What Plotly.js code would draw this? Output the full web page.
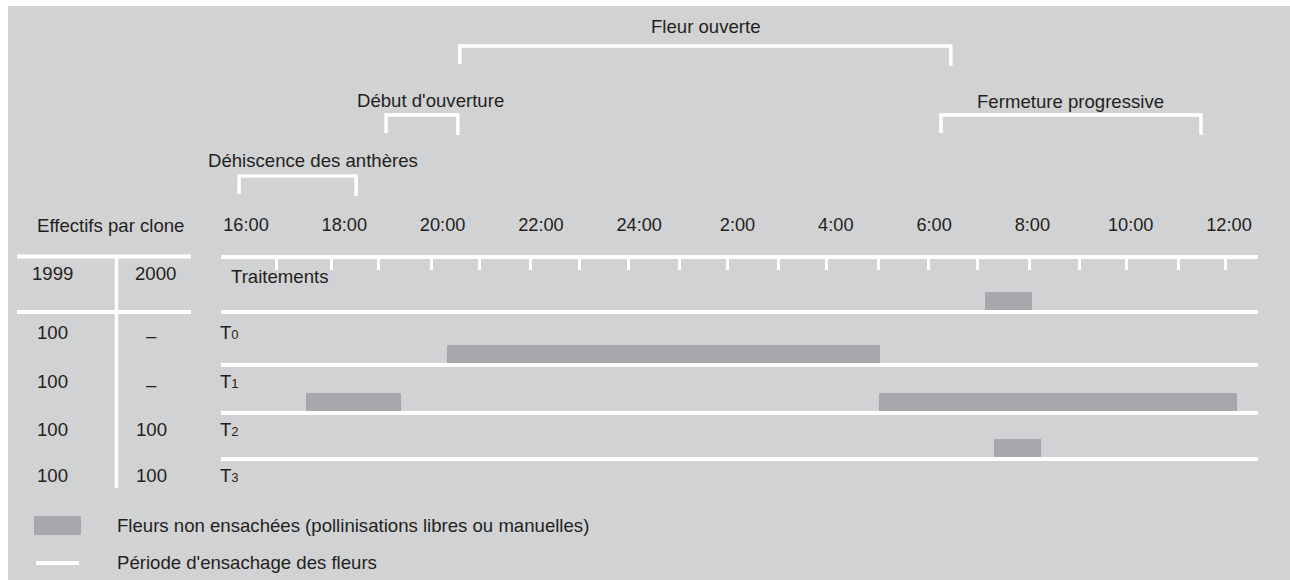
<!DOCTYPE html>
<html>
<head>
<meta charset="utf-8">
<script src="https://cdn.plot.ly/plotly-3.0.1.min.js"></script>
<style>html,body{margin:0;padding:0;background:#fff;}#chart{width:1290px;height:580px;}</style>
</head>
<body>
<div id="chart"></div>
<script>
// ---------------- DATA ----------------
const tickLabels = ['16:00','18:00','20:00','22:00','24:00','2:00','4:00','6:00','8:00','10:00','12:00'];
const tickLabelHours = [16,18,20,22,24,26,28,30,32,34,36];          // hours since 0:00 of day 1
const minorTickHours = [16.63,17.73,18.69,19.78,20.76,21.78,22.78,23.79,24.81,25.79,
                        26.84,27.82,28.86,29.88,30.89,31.95,32.95,33.92,34.98,35.92];

const phaseNames = ['Déhiscence des anthères','Début d\'ouverture','Fleur ouverte','Fermeture progressive'];
const phaseStart = [15.86, 18.85, 20.35, 30.14];
const phaseEnd   = [18.24, 20.31, 30.34, 35.43];

const treatmentNames = ['T','T','T','T'];
const treatmentIdx = ['0','1','2','3'];
const n1999 = [100, 100, 100, 100];
const n2000 = [null, null, 100, 100];

// unbagged-flower periods (row index: 0 = header row "Traitements", 1 = T0, 2 = T1, 3 = T2)
const segRow   = [0, 1, 2, 2, 3];
const segStart = [31.04, 20.09, 17.22, 28.88, 31.22];
const segEnd   = [31.99, 28.90, 19.15, 36.16, 32.17];

const legendLabels = ['Fleurs non ensachées (pollinisations libres ou manuelles)', 'Période d\'ensachage des fleurs'];

// ---------------- LAYOUT / STYLE ----------------
const W = 1290, H = 580;
const BG = '#d1d2d4', BAR = '#a7a8ab', TXT = '#231f20', WHITE = '#ffffff';
const FONT = '"Liberation Sans", Arial, Helvetica, sans-serif';
const FS = 18.6, TFS = 18.2;
const px = v => v / W;

const axisY = 256.5;
const rowLineY = [312, 365, 413, 459];     // bottom line of each drawn row
const rowTextY = [332, 381, 429, 475];     // T0..T3 text rows
const headerY = 273;
const barH = 19;
const phaseTopY = [176, 115, 46, 115];
const phaseLabelY = [160, 100, 26, 101];
const phaseLabelShift = [15, 9, 1, 0];
const lineX0 = 221, lineX1 = 1258;

// x axis mapping (hours)
const xDomain = [lineX0 / W, lineX1 / W];
const pxPerHour = 49.15, x16 = 246;
const xRange = [16 + (lineX0 - x16) / pxPerHour, 16 + (lineX1 - x16) / pxPerHour];

const traces = [];

// gray bars
traces.push({
  type: 'bar', orientation: 'h',
  base: segStart,
  x: segStart.map((s, i) => segEnd[i] - s),
  y: segRow.map(r => rowLineY[r] - 10.5),
  width: barH,
  marker: {color: BAR, line: {width: 0}},
  hoverinfo: 'skip', showlegend: false
});

// phase brackets
const bx = [], by = [];
phaseStart.forEach((s, i) => {
  const t = phaseTopY[i];
  bx.push(s, s, phaseEnd[i], phaseEnd[i], null);
  by.push(t + 18, t, t, t + 20, null);
});
traces.push({
  type: 'scatter', mode: 'lines', x: bx, y: by,
  line: {color: WHITE, width: 3.5}, hoverinfo: 'skip', showlegend: false,
  cliponaxis: false
});

const shapes = [];
// gray panel
shapes.push({type: 'rect', xref: 'paper', yref: 'y', x0: px(8), x1: 1, y0: 6, y1: 580,
  fillcolor: BG, line: {width: 0}, layer: 'below'});
// row lines (bagging period)
rowLineY.forEach(y => shapes.push({type: 'line', xref: 'paper', yref: 'y',
  x0: px(lineX0), x1: px(lineX1), y0: y, y1: y, line: {color: WHITE, width: 4}, layer: 'above'}));
// left table lines
[256.5, 312].forEach(y => shapes.push({type: 'line', xref: 'paper', yref: 'y',
  x0: px(17), x1: px(191), y0: y, y1: y, line: {color: WHITE, width: 4}}));
shapes.push({type: 'line', xref: 'paper', yref: 'y', x0: px(116.5), x1: px(116.5), y0: 256.5, y1: 488,
  line: {color: WHITE, width: 3.5}});
// legend swatches
shapes.push({type: 'rect', xref: 'paper', yref: 'y', x0: px(34), x1: px(81), y0: 516, y1: 535,
  fillcolor: BAR, line: {width: 0}});
shapes.push({type: 'line', xref: 'paper', yref: 'y', x0: px(36), x1: px(79), y0: 563, y1: 563,
  line: {color: WHITE, width: 4}});

const annotations = [];
const ann = (o) => annotations.push(Object.assign({showarrow: false, font: {family: FONT, size: FS, color: TXT}}, o));

// phase labels
phaseNames.forEach((n, i) => ann({xref: 'x', yref: 'y', x: (phaseStart[i] + phaseEnd[i]) / 2,
  xshift: phaseLabelShift[i], y: phaseLabelY[i], text: n, xanchor: 'center', yanchor: 'middle'}));

// table header
ann({xref: 'paper', yref: 'y', x: px(110), y: 225, text: 'Effectifs par clone', xanchor: 'center', yanchor: 'middle'});
ann({xref: 'paper', yref: 'y', x: px(52), y: headerY, text: '1999', xanchor: 'center', yanchor: 'middle'});
ann({xref: 'paper', yref: 'y', x: px(155), y: headerY, text: '2000', xanchor: 'center', yanchor: 'middle'});
ann({xref: 'paper', yref: 'y', x: px(229), y: 276, text: 'Traitements', xanchor: 'left', yanchor: 'middle'});

// table rows
treatmentNames.forEach((t, i) => {
  ann({xref: 'paper', yref: 'y', x: px(52), y: rowTextY[i], text: String(n1999[i]), xanchor: 'center', yanchor: 'middle'});
  ann({xref: 'paper', yref: 'y', x: px(151), y: rowTextY[i] + (n2000[i] === null ? 3 : 0),
    text: n2000[i] === null ? '–' : String(n2000[i]), xanchor: 'center', yanchor: 'middle'});
  ann({xref: 'paper', yref: 'y', x: px(218), y: rowTextY[i],
    text: t + '<span style="font-size:13px">' + treatmentIdx[i] + '</span>', xanchor: 'left', yanchor: 'middle'});
});

// legend texts
ann({xref: 'paper', yref: 'y', x: px(115), y: 525, text: legendLabels[0], xanchor: 'left', yanchor: 'middle'});
ann({xref: 'paper', yref: 'y', x: px(115), y: 562, text: legendLabels[1], xanchor: 'left', yanchor: 'middle'});

const layout = {
  width: W, height: H,
  margin: {l: 0, r: 0, t: 0, b: 0, pad: 0},
  paper_bgcolor: WHITE, plot_bgcolor: 'rgba(0,0,0,0)',
  showlegend: false,
  font: {family: FONT, size: FS, color: TXT},
  xaxis: {
    domain: xDomain, range: xRange, anchor: 'free', position: 1 - axisY / H, side: 'top',
    showline: true, linecolor: WHITE, linewidth: 4,
    tickmode: 'array', tickvals: tickLabelHours, ticktext: tickLabels, ticks: '',
    tickfont: {family: FONT, size: TFS, color: TXT},
    ticklabelstandoff: 16,
    showgrid: false, zeroline: false, fixedrange: true,
    minor: {tickmode: 'array', tickvals: minorTickHours, ticks: 'inside', ticklen: 11,
            tickwidth: 3, tickcolor: WHITE, showgrid: false}
  },
  yaxis: {range: [H, 0], domain: [0, 1], visible: false, fixedrange: true, showgrid: false, zeroline: false},
  shapes: shapes, annotations: annotations, bargap: 0
};

Plotly.newPlot('chart', traces, layout, {displayModeBar: false, staticPlot: true});
</script>
</body>
</html>
